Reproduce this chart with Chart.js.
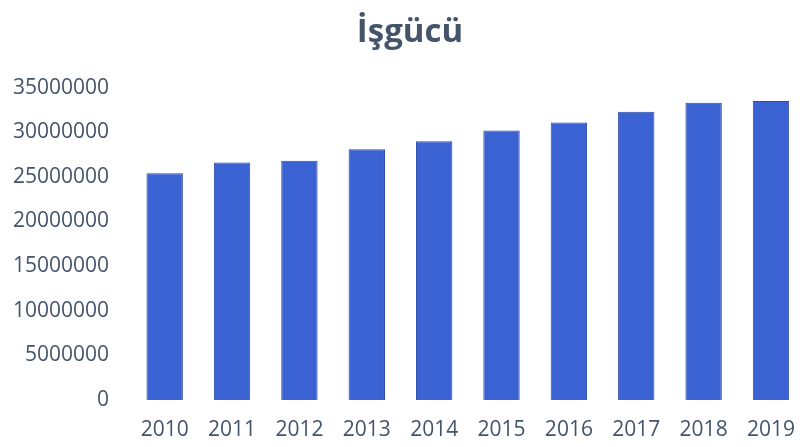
<!DOCTYPE html>
<html>
<head>
<meta charset="utf-8">
<script src="https://cdn.jsdelivr.net/npm/chart.js@4.4.0/dist/chart.umd.min.js"></script>
<style>
  html, body { margin: 0; padding: 0; background: #ffffff; overflow: hidden; }
  #wrap { width: 812px; height: 447px; }
</style>
</head>
<body>
<div id="wrap"><canvas id="myChart" width="812" height="447"></canvas></div>
<script>
const years = ['2010', '2011', '2012', '2013', '2014', '2015', '2016', '2017', '2018', '2019'];
const workforce = [25400000, 26600000, 26800000, 28100000, 29000000, 30200000, 31100000, 32300000, 33300000, 33500000];
const yTicks = [0, 5000000, 10000000, 15000000, 20000000, 25000000, 30000000, 35000000];

document.addEventListener("DOMContentLoaded", function() {
    const ctx = document.getElementById('myChart').getContext('2d');

    // horizontal shading on each bar, darker at the edges
    function barFill(context) {
        const chart = context.chart;
        const bar = context.element;
        if (!bar || bar.x === undefined || !isFinite(bar.x)) return '#3b62d2';
        const w = bar.width || 36;
        const g = chart.ctx.createLinearGradient(bar.x - w / 2, 0, bar.x + w / 2, 0);
        g.addColorStop(0, '#2f4fbe');
        g.addColorStop(0.45, '#3f6cd8');
        g.addColorStop(1, '#3050c0');
        return g;
    }

    new Chart(ctx, {
        type: 'bar',
        data: {
            labels: years,
            datasets: [{
                label: 'İşgücü',
                data: workforce,
                backgroundColor: barFill,
                borderColor: '#2c4aa6',
                borderWidth: 1,
                barPercentage: 0.54,
                categoryPercentage: 1.0
            }]
        },
        options: {
            responsive: false,
            animation: false,
            layout: { padding: { left: 8, right: 0, top: 0, bottom: 0 } },
            scales: {
                x: {
                    grid: { display: false, drawTicks: false },
                    border: { display: false },
                    afterFit: function(scale) { scale.height = 47; },
                    ticks: {
                        color: '#44546a',
                        padding: 17,
                        maxRotation: 0,
                        font: { family: 'Open Sans', size: 21 }
                    }
                },
                y: {
                    min: 0,
                    max: 35000000,
                    afterBuildTicks: function(axis) {
                        axis.ticks = yTicks.map(v => ({ value: v }));
                    },
                    afterFit: function(scale) { scale.width = 123; },
                    grid: { display: false, drawTicks: false },
                    border: { display: false },
                    ticks: {
                        color: '#44546a',
                        padding: 22,
                        font: { family: 'Open Sans', size: 21 },
                        callback: v => String(v)
                    }
                }
            },
            plugins: {
                legend: { display: false },
                tooltip: { enabled: false },
                title: {
                    display: true,
                    text: 'İşgücü',
                    color: '#44546a',
                    font: { family: 'Open Sans', size: 33, weight: 'bold' },
                    padding: { top: 13, bottom: 35 }
                }
            }
        }
    });
});
</script>
</body>
</html>
